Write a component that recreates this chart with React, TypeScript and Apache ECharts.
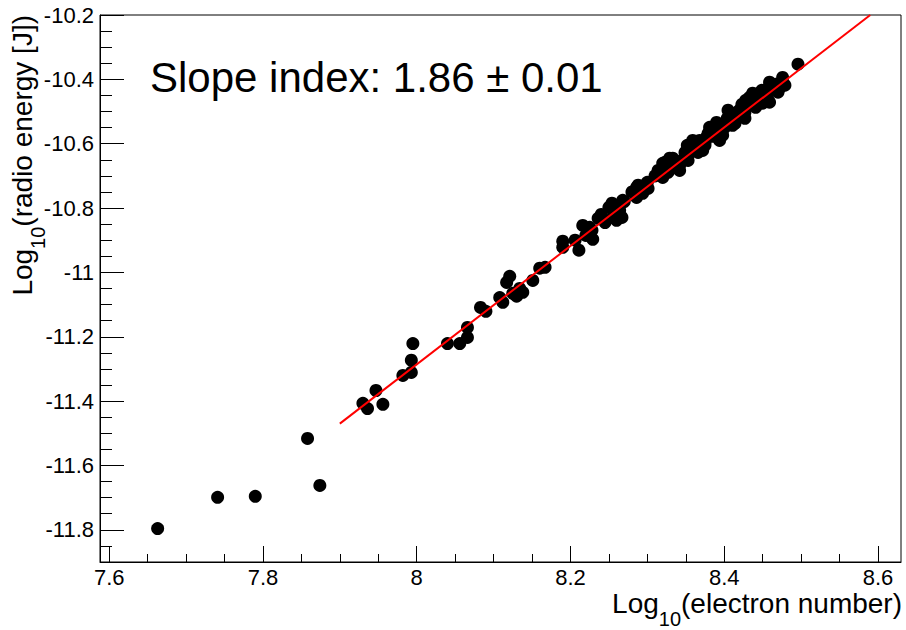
import React, { useEffect, useRef } from 'react';
import * as echarts from 'echarts';

// Measured points: log10(electron number) vs log10(radio energy [J])
const X_VALUES = [
  7.663, 7.741, 7.790, 7.858, 7.874, 7.930, 7.936, 7.947, 7.956, 7.982,
  7.993, 7.993, 7.995, 8.040, 8.056, 8.066, 8.066, 8.083, 8.090, 8.108,
  8.112, 8.117, 8.121, 8.125, 8.130, 8.134, 8.138, 8.151, 8.160, 8.167,
  8.190, 8.190, 8.206, 8.211, 8.216, 8.220, 8.228, 8.229, 8.236, 8.250,
  8.254, 8.255, 8.260, 8.264, 8.267, 8.268, 8.286, 8.288, 8.286, 8.294,
  8.301, 8.320, 8.320, 8.323, 8.325, 8.329, 8.333, 8.338, 8.342, 8.349,
  8.355, 8.359, 8.362, 8.368, 8.372, 8.377, 8.381, 8.384, 8.385, 8.390,
  8.394, 8.401, 8.405, 8.407, 8.411, 8.414, 8.420, 8.424, 8.427, 8.431,
  8.433, 8.437, 8.441, 8.443, 8.446, 8.450, 8.456, 8.459, 8.459, 8.466,
  8.470, 8.476, 8.479, 8.496, 8.314, 8.352, 8.366, 8.398, 8.416, 8.436,
  8.327, 8.336, 8.345, 8.353, 8.358, 8.366, 8.375, 8.379, 8.388, 8.392,
  8.397, 8.404, 8.410, 8.417, 8.423, 8.428, 8.436, 8.440, 8.444, 8.449,
  8.453, 8.457, 8.462, 8.467, 8.472, 8.446, 8.427, 8.411, 8.398, 8.375,
  8.366, 8.353, 8.342, 8.240, 8.270, 8.280, 8.300, 8.310, 8.245, 8.225
];
const Y_VALUES = [
  -11.796, -11.699, -11.696, -11.516, -11.662, -11.407, -11.423, -11.367, -11.410, -11.320,
  -11.273, -11.311, -11.221, -11.221, -11.221, -11.171, -11.202, -11.109, -11.121, -11.078,
  -11.093, -11.031, -11.012, -11.065, -11.074, -11.050, -11.062, -11.025, -10.987, -10.984,
  -10.903, -10.922, -10.900, -10.931, -10.854, -10.885, -10.869, -10.897, -10.832, -10.798,
  -10.785, -10.829, -10.838, -10.807, -10.829, -10.776, -10.736, -10.729, -10.767, -10.754,
  -10.739, -10.661, -10.705, -10.658, -10.683, -10.645, -10.645, -10.661, -10.667, -10.627,
  -10.621, -10.590, -10.611, -10.590, -10.621, -10.580, -10.549, -10.565, -10.577, -10.534,
  -10.590, -10.549, -10.496, -10.527, -10.521, -10.537, -10.496, -10.487, -10.502, -10.474,
  -10.456, -10.443, -10.487, -10.465, -10.443, -10.474, -10.456, -10.471, -10.409, -10.428,
  -10.440, -10.394, -10.418, -10.353, -10.683, -10.605, -10.600, -10.545, -10.515, -10.465,
  -10.689, -10.667, -10.652, -10.636, -10.614, -10.599, -10.596, -10.568, -10.552, -10.546,
  -10.558, -10.521, -10.512, -10.502, -10.478, -10.465, -10.478, -10.459, -10.450, -10.434,
  -10.440, -10.428, -10.425, -10.415, -10.428, -10.465, -10.521, -10.543, -10.574, -10.605,
  -10.627, -10.652, -10.683, -10.820, -10.780, -10.750, -10.720, -10.700, -10.845, -10.860
];

// Fitted line endpoints (log10 N, log10 E)
const FIT_X = [7.9, 8.59];
const FIT_Y = [-11.47, -10.2];

const X_RANGE = [7.588, 8.63];
const Y_RANGE = [-11.9, -10.2];

const X_MAJOR_TICKS = [7.6, 7.8, 8, 8.2, 8.4, 8.6];
const X_MINOR_TICKS = [7.65, 7.7, 7.75, 7.85, 7.9, 7.95, 8.05, 8.1, 8.15, 8.25, 8.3, 8.35, 8.45, 8.5, 8.55];
const Y_MAJOR_TICKS = [-11.8, -11.6, -11.4, -11.2, -11, -10.8, -10.6, -10.4, -10.2];
const Y_MINOR_TICKS = [
  -11.85, -11.75, -11.7, -11.65, -11.55, -11.5, -11.45, -11.35, -11.3, -11.25,
  -11.15, -11.1, -11.05, -10.95, -10.9, -10.85, -10.75, -10.7, -10.65, -10.55,
  -10.5, -10.45, -10.35, -10.3, -10.25
];

const ANNOTATION = 'Slope index: 1.86 \u00b1 0.01';
const X_TITLE = ['Log', '10', '(electron number)'];
const Y_TITLE = ['Log', '10', '(radio energy [J])'];

const FONT = '"Liberation Sans", Arial, Helvetica, sans-serif';
const TITLE_SIZE = 28;
const SUB_SIZE = 20;
const SUB_SHIFT = 16;

function measure(text: string, size: number): number {
  const c = document.createElement('canvas');
  const ctx = c.getContext('2d');
  if (!ctx) return text.length * size * 0.55;
  ctx.font = `${size}px ${FONT}`;
  return ctx.measureText(text).width;
}

// Builds the three pieces (main, subscript, main) ending at local x = 0
function titlePieces(parts: string[]) {
  const w0 = measure(parts[0], TITLE_SIZE);
  const w1 = measure(parts[1], SUB_SIZE);
  const w2 = measure(parts[2], TITLE_SIZE);
  const total = w0 + w1 + w2;
  const start = -total;
  const base = { fontFamily: FONT, fill: '#000', align: 'left', verticalAlign: 'middle' };
  return [
    { type: 'text', x: start, y: 0, style: { ...base, text: parts[0], fontSize: TITLE_SIZE } },
    { type: 'text', x: start + w0, y: SUB_SHIFT, style: { ...base, text: parts[1], fontSize: SUB_SIZE } },
    { type: 'text', x: start + w0 + w1, y: 0, style: { ...base, text: parts[2], fontSize: TITLE_SIZE } },
  ];
}

export default function App() {
  const ref = useRef<HTMLDivElement>(null);

  useEffect(() => {
    if (!ref.current) return;
    const chart = echarts.init(ref.current, undefined, { renderer: 'svg' });

    const points = X_VALUES.map((x, i) => [x, Y_VALUES[i]]);
    const fit = FIT_X.map((x, i) => [x, FIT_Y[i]]);

    const baseAxis = {
      type: 'value' as const,
      splitLine: { show: false },
    };

    chart.setOption({
      animation: false,
      backgroundColor: '#fff',
      grid: {
        left: 100,
        top: 15,
        width: 801,
        height: 547,
        show: true,
        borderColor: '#000',
        borderWidth: 1,
        backgroundColor: 'transparent',
        containLabel: false,
      },
      xAxis: [
        {
          ...baseAxis,
          min: X_RANGE[0],
          max: X_RANGE[1],
          position: 'bottom',
          axisLine: { show: true, onZero: false, lineStyle: { color: '#000', width: 1 } },
          axisTick: {
            show: true,
            inside: true,
            length: 16,
            customValues: X_MAJOR_TICKS,
            lineStyle: { color: '#000', width: 1 },
          },
          axisLabel: {
            customValues: X_MAJOR_TICKS,
            fontSize: 22,
            lineHeight: 22,
            fontFamily: FONT,
            color: '#000',
            margin: 4,
          },
        },
        {
          ...baseAxis,
          min: X_RANGE[0],
          max: X_RANGE[1],
          position: 'bottom',
          axisLine: { show: false, onZero: false },
          axisTick: {
            show: true,
            inside: true,
            length: 8,
            customValues: X_MINOR_TICKS,
            lineStyle: { color: '#000', width: 1 },
          },
          axisLabel: { show: false },
        },
      ],
      yAxis: [
        {
          ...baseAxis,
          min: Y_RANGE[0],
          max: Y_RANGE[1],
          position: 'left',
          axisLine: { show: true, onZero: false, lineStyle: { color: '#000', width: 1 } },
          axisTick: {
            show: true,
            inside: true,
            length: 24,
            customValues: Y_MAJOR_TICKS,
            lineStyle: { color: '#000', width: 1 },
          },
          axisLabel: {
            customValues: Y_MAJOR_TICKS,
            fontSize: 22,
            fontFamily: FONT,
            color: '#000',
            margin: 6,
          },
        },
        {
          ...baseAxis,
          min: Y_RANGE[0],
          max: Y_RANGE[1],
          position: 'left',
          axisLine: { show: false, onZero: false },
          axisTick: {
            show: true,
            inside: true,
            length: 12,
            customValues: Y_MINOR_TICKS,
            lineStyle: { color: '#000', width: 1 },
          },
          axisLabel: { show: false },
        },
      ],
      series: [
        {
          type: 'scatter',
          xAxisIndex: 0,
          yAxisIndex: 0,
          data: points,
          symbol: 'circle',
          symbolSize: 13,
          itemStyle: { color: '#000', opacity: 1 },
          z: 2,
        },
        {
          type: 'line',
          xAxisIndex: 0,
          yAxisIndex: 0,
          data: fit,
          showSymbol: false,
          symbol: 'none',
          lineStyle: { color: '#ff0000', width: 2 },
          z: 3,
        },
      ],
      graphic: [
        {
          type: 'text',
          x: 150,
          y: 77,
          style: {
            text: ANNOTATION,
            fontSize: 42,
            fontFamily: FONT,
            fill: '#000',
            align: 'left',
            verticalAlign: 'middle',
          },
        },
        {
          type: 'group',
          x: 902,
          y: 603,
          children: titlePieces(X_TITLE),
        },
        {
          type: 'group',
          x: 22,
          y: 15,
          rotation: Math.PI / 2,
          children: titlePieces(Y_TITLE),
        },
      ],
    });

    return () => chart.dispose();
  }, []);

  return (
    <div
      ref={ref}
      style={{ position: 'fixed', left: 0, top: 0, width: 906, height: 630, background: '#fff' }}
    />
  );
}
